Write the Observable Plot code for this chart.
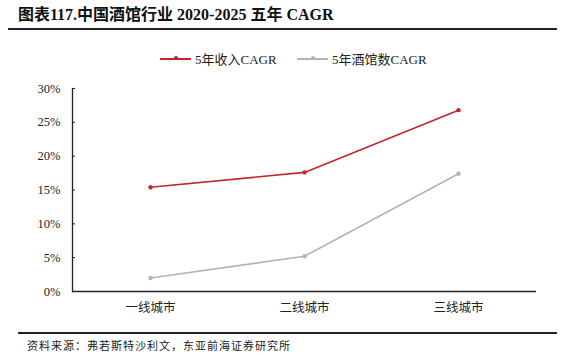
<!DOCTYPE html>
<html><head><meta charset="utf-8">
<script src="https://cdn.jsdelivr.net/npm/d3@7"></script>
<script src="https://cdn.jsdelivr.net/npm/@observablehq/plot@0.6"></script>
<style>
body{margin:0;background:#fff;}
#wrap{position:relative;width:570px;height:355px;overflow:hidden;font-family:"Liberation Serif","Noto Sans CJK SC",serif;}
#title{position:absolute;left:18px;top:1px;font-size:16px;font-weight:bold;color:#111;white-space:nowrap;font-family:"Liberation Serif","Noto Sans CJK SC",serif;}
#tline{position:absolute;left:8px;top:28px;width:549px;height:2px;background:#222;}
#fline{position:absolute;left:18px;top:332px;width:539px;height:2px;background:#222;}
#cap{position:absolute;left:27px;top:337px;font-size:11px;letter-spacing:1px;color:#222;white-space:nowrap;font-family:"Noto Sans CJK SC",serif;}
.leg{position:absolute;top:49px;font-size:13px;color:#222;white-space:nowrap;display:flex;align-items:center;}
.leg .sw{position:relative;width:31px;height:2px;margin-right:4px;}
.leg .sw i{position:absolute;left:14px;top:-1.5px;width:4px;height:4px;border-radius:50%;}
#plot{position:absolute;left:0;top:0;}
</style></head>
<body>
<div id="wrap">
<div id="plot"></div>
<div id="title">图表117.中国酒馆行业 2020-2025 五年 CAGR</div>
<div id="tline"></div>
<div id="legend"></div>
<div id="fline"></div>
<div id="cap">资料来源：弗若斯特沙利文，东亚前海证券研究所</div>
</div>
<script>
const cities = ["一线城市", "二线城市", "三线城市"];
const seriesNames = ["5年收入CAGR", "5年酒馆数CAGR"];
const revenueCAGR = [0.154, 0.176, 0.268];
const storeCAGR = [0.020, 0.052, 0.174];
const colors = ["#c1272d", "#b4b4b4"];
const yTicks = [0, 0.05, 0.10, 0.15, 0.20, 0.25, 0.30];

const data = [];
[revenueCAGR, storeCAGR].forEach((vals, s) => {
  vals.forEach((v, i) => data.push({city: cities[i], series: seriesNames[s], value: v}));
});

const chart = Plot.plot({
  width: 570, height: 355,
  marginLeft: 72, marginRight: 34, marginTop: 88, marginBottom: 64,
  style: {fontFamily: '"Liberation Serif","Noto Sans CJK SC",serif', fontSize: "12.5px", color: "#222", background: "transparent"},
  x: {type: "band", domain: cities, padding: 0, label: null},
  y: {domain: [0, 0.3], label: null},
  color: {domain: seriesNames, range: colors},
  marks: [
    Plot.axisY({ticks: yTicks, tickFormat: d => Math.round(d * 100) + "%", tickSize: -3, tickPadding: 15, fontSize: 12.5, stroke: "#222"}),
    Plot.axisX({tickSize: 0, tickPadding: 12, fontSize: 12.5, fontFamily: '"Noto Sans CJK SC",serif'}),
    Plot.frame({anchor: "left", stroke: "#222", strokeWidth: 1.3}),
    Plot.ruleY([0], {stroke: "#222", strokeWidth: 1.3}),
    Plot.line(data, {x: "city", y: "value", z: "series", stroke: "series", strokeWidth: 1.6}),
    Plot.dot(data, {x: "city", y: "value", fill: "series", r: 2.2})
  ]
});
document.getElementById("plot").appendChild(chart);

const leg = document.getElementById("legend");
const legLeft = [160, 297];
seriesNames.forEach((n, i) => {
  const d = document.createElement("div");
  d.className = "leg";
  d.style.left = legLeft[i] + "px";
  d.innerHTML = `<span class="sw" style="background:${colors[i]}"><i style="background:${colors[i]}"></i></span><span>${n}</span>`;
  leg.appendChild(d);
});
</script>
</body></html>
